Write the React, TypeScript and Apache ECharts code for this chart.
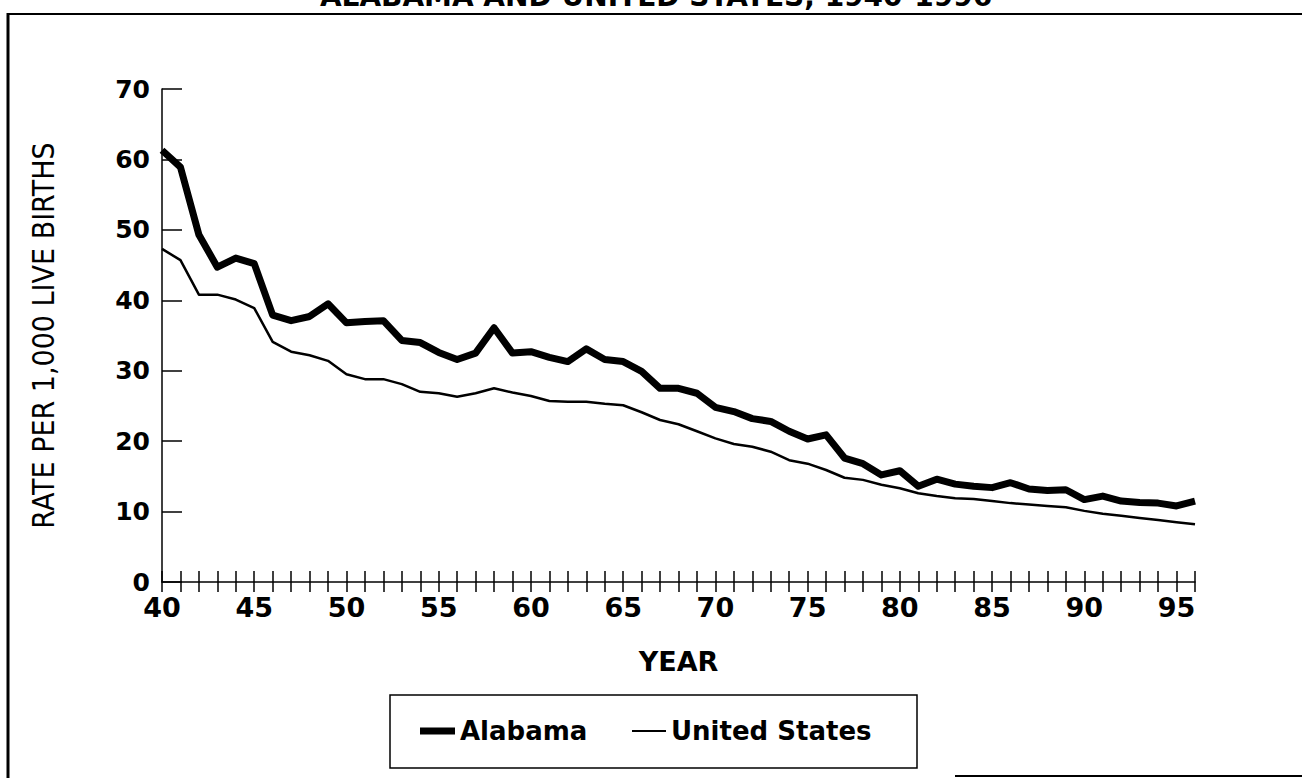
import React, { useEffect, useRef } from "react";
import * as echarts from "echarts";

const years = [
  1940, 1941, 1942, 1943, 1944, 1945, 1946, 1947, 1948, 1949,
  1950, 1951, 1952, 1953, 1954, 1955, 1956, 1957, 1958, 1959,
  1960, 1961, 1962, 1963, 1964, 1965, 1966, 1967, 1968, 1969,
  1970, 1971, 1972, 1973, 1974, 1975, 1976, 1977, 1978, 1979,
  1980, 1981, 1982, 1983, 1984, 1985, 1986, 1987, 1988, 1989,
  1990, 1991, 1992, 1993, 1994, 1995, 1996,
];

const alabama = [
  61.3, 58.9, 49.3, 44.7, 46.0, 45.2, 37.9, 37.1, 37.7, 39.5,
  36.8, 37.0, 37.1, 34.3, 34.0, 32.6, 31.6, 32.5, 36.1, 32.5,
  32.7, 31.9, 31.3, 33.1, 31.6, 31.3, 29.9, 27.5, 27.5, 26.8,
  24.8, 24.2, 23.2, 22.8, 21.4, 20.3, 20.9, 17.6, 16.8, 15.2,
  15.8, 13.6, 14.6, 13.9, 13.6, 13.4, 14.1, 13.2, 13.0, 13.1,
  11.7, 12.2, 11.5, 11.3, 11.2, 10.8, 11.5,
];

const unitedStates = [
  47.3, 45.7, 40.8, 40.8, 40.1, 38.9, 34.1, 32.7, 32.2, 31.4,
  29.5, 28.8, 28.8, 28.1, 27.0, 26.8, 26.3, 26.8, 27.5, 26.9,
  26.4, 25.7, 25.6, 25.6, 25.3, 25.1, 24.1, 23.0, 22.4, 21.4,
  20.4, 19.6, 19.2, 18.5, 17.3, 16.8, 15.9, 14.8, 14.5, 13.8,
  13.3, 12.6, 12.2, 11.9, 11.8, 11.5, 11.2, 11.0, 10.8, 10.6,
  10.1, 9.7, 9.4, 9.1, 8.8, 8.5, 8.2,
];

const labeledYears = [1940, 1945, 1950, 1955, 1960, 1965, 1970, 1975, 1980, 1985, 1990, 1995];
const xTickLabels = ["40", "45", "50", "55", "60", "65", "70", "75", "80", "85", "90", "95"];

const seriesNames = ["Alabama", "United States"];
const titleText = "ALABAMA AND UNITED STATES, 1940-1996";
const xAxisTitle = "YEAR";
const yAxisTitle = "RATE PER 1,000 LIVE BIRTHS";

const BOLD_FONT = '"DejaVu Sans", "Liberation Sans", sans-serif';
const NARROW_FONT = '"Liberation Sans Narrow", "DejaVu Sans Condensed", sans-serif';

const legendText = {
  color: "#000",
  fontFamily: BOLD_FONT,
  fontWeight: "bold" as const,
  fontSize: 26,
  lineHeight: 30,
};

export default function App() {
  const ref = useRef<HTMLDivElement>(null);

  useEffect(() => {
    if (!ref.current) return;
    const chart = echarts.init(ref.current, null, { renderer: "svg" });

    const xCommon = {
      type: "value" as const,
      position: "bottom" as const,
      min: 1940,
      max: 1996,
      interval: 1,
      splitLine: { show: false },
    };

    chart.setOption({
      animation: false,
      backgroundColor: "#ffffff",
      grid: { left: 162, right: 107, top: 89, bottom: 196, containLabel: false },
      xAxis: [
        {
          ...xCommon,
          axisLine: { show: true, lineStyle: { color: "#000", width: 1.5 } },
          axisTick: { show: true, inside: false, length: 10, lineStyle: { color: "#000", width: 1.5 } },
          axisLabel: {
            show: true,
            margin: 14,
            color: "#000",
            fontFamily: BOLD_FONT,
            fontWeight: "bold",
            fontSize: 27,
            lineHeight: 22,
            formatter: (v: number) => {
              const i = labeledYears.indexOf(v);
              return i >= 0 ? xTickLabels[i] : "";
            },
          },
          name: xAxisTitle,
          nameLocation: "middle",
          nameGap: 66,
          nameTextStyle: { color: "#000", fontFamily: BOLD_FONT, fontWeight: "bold", fontSize: 27 },
        },
        {
          ...xCommon,
          axisLine: { show: false },
          axisTick: { show: true, inside: true, length: 11, lineStyle: { color: "#000", width: 1.5 } },
          axisLabel: { show: false },
        },
      ],
      yAxis: {
        type: "value",
        min: 0,
        max: 70,
        interval: 10,
        splitLine: { show: false },
        axisLine: { show: true, lineStyle: { color: "#000", width: 1.5 } },
        axisTick: { show: true, inside: true, length: 20, lineStyle: { color: "#000", width: 1.5 } },
        axisLabel: {
          margin: 12,
          color: "#000",
          fontFamily: BOLD_FONT,
          fontWeight: "bold",
          fontSize: 25,
          lineHeight: 20,
        },
        name: yAxisTitle,
        nameLocation: "middle",
        nameRotate: 90,
        nameGap: 104,
        nameTextStyle: { color: "#000", fontFamily: NARROW_FONT, fontSize: 30 },
      },
      legend: [
        {
          left: 420,
          top: 716,
          padding: 0,
          itemWidth: 35,
          itemHeight: 7,
          icon: "rect",
          data: [seriesNames[0]],
          textStyle: legendText,
        },
        {
          left: 632,
          top: 716,
          padding: 0,
          itemWidth: 34,
          itemHeight: 2,
          icon: "rect",
          data: [seriesNames[1]],
          textStyle: legendText,
        },
      ],
      series: [
        {
          name: seriesNames[0],
          type: "line",
          data: years.map((y, i) => [y, alabama[i]]),
          symbol: "none",
          showSymbol: false,
          lineStyle: { color: "#000", width: 7, join: "round" },
          itemStyle: { color: "#000" },
        },
        {
          name: seriesNames[1],
          type: "line",
          data: years.map((y, i) => [y, unitedStates[i]]),
          symbol: "none",
          showSymbol: false,
          lineStyle: { color: "#000", width: 2.5, join: "round" },
          itemStyle: { color: "#000" },
        },
      ],
      graphic: [
        { type: "line", shape: { x1: 8, y1: 13, x2: 8, y2: 778 }, style: { stroke: "#000", lineWidth: 3 } },
        { type: "line", shape: { x1: 8, y1: 14, x2: 1302, y2: 14 }, style: { stroke: "#000", lineWidth: 2 } },
        { type: "line", shape: { x1: 955, y1: 776, x2: 1302, y2: 776 }, style: { stroke: "#000", lineWidth: 2 } },
        {
          type: "rect",
          shape: { x: 390, y: 695, width: 527, height: 73 },
          style: { fill: "none", stroke: "#000", lineWidth: 1.5 },
        },
        {
          type: "text",
          x: 656,
          y: -4,
          style: {
            text: titleText,
            align: "center",
            verticalAlign: "middle",
            fill: "#000",
            fontFamily: BOLD_FONT,
            fontWeight: "bold",
            fontSize: 28,
          },
        },
      ],
    });

    return () => chart.dispose();
  }, []);

  return (
    <div
      ref={ref}
      style={{ position: "absolute", left: 0, top: 0, width: 1302, height: 778, background: "#fff" }}
    />
  );
}
